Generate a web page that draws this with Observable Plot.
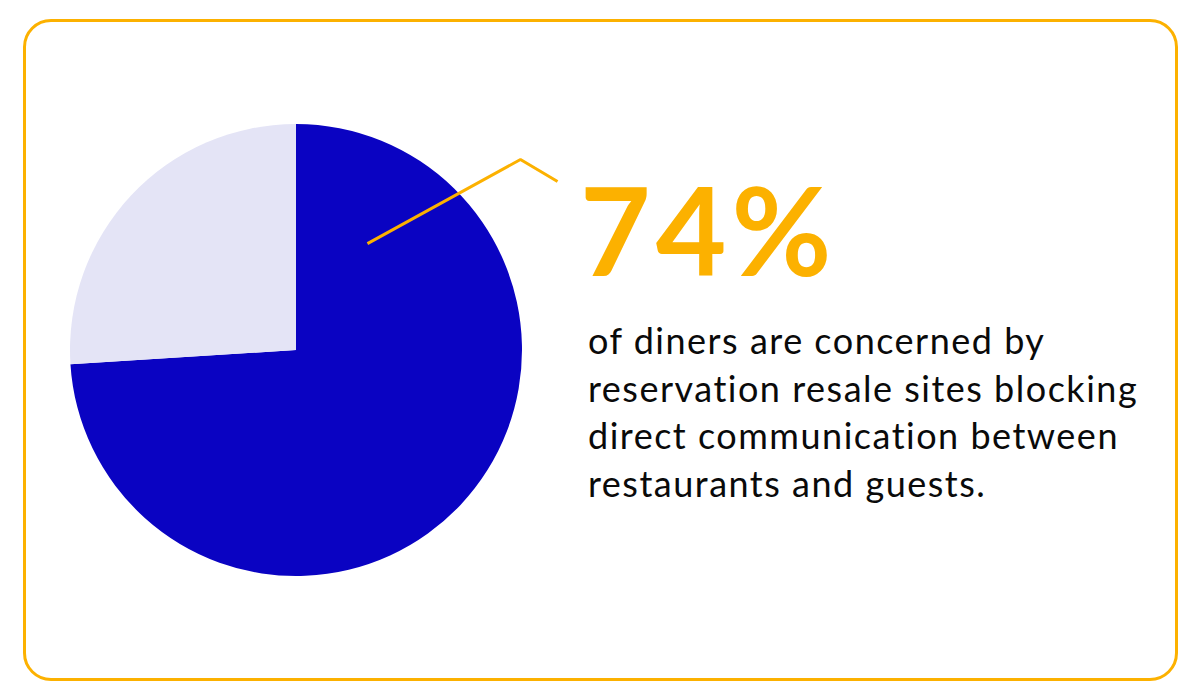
<!DOCTYPE html>
<html>
<head>
<meta charset="utf-8">
<script src="https://cdn.jsdelivr.net/npm/d3@7"></script>
<script src="https://cdn.jsdelivr.net/npm/@observablehq/plot@0.6"></script>
<style>
  html, body { margin: 0; padding: 0; background: #ffffff; }
  #page { position: relative; width: 1200px; height: 700px; overflow: hidden; font-family: Lato, "Open Sans", sans-serif; }
  #frame { position: absolute; left: 23px; top: 19px; width: 1149px; height: 656px; border: 3px solid #fcb100; border-radius: 28px; box-sizing: content-box; }
  #chart { position: absolute; left: 0; top: 0; }
  #headline { position: absolute; left: 580px; top: 168px; font-size: 122px; line-height: 122px; font-weight: 700; color: #fcb100; letter-spacing: 5px; white-space: nowrap; }
  #body { position: absolute; left: 588px; top: 317px; font-size: 36px; line-height: 47.7px; letter-spacing: 1.5px; color: #0a0a0a; white-space: nowrap; }
</style>
</head>
<body>
<div id="page">
  <div id="frame"></div>
  <div id="chart"></div>
  <div id="headline"></div>
  <div id="body"></div>
</div>
<script>
// ---- data ----
const slices = ["Concerned", "Not concerned"];
const shares = [74, 26];
const sliceColors = ["#0a03c2", "#e4e4f6"];
const headline = "74%";
const bodyLines = [
  "of diners are concerned by",
  "reservation resale sites blocking",
  "direct communication between",
  "restaurants and guests."
];
// callout leader, in pie-radius units (center = 0,0; radius = 1)
const calloutX = [0.314, 0.991, 1.155];
const calloutY = [0.473, 0.845, 0.748];

const pieData = slices.map((s, i) => ({label: s, value: shares[i], color: sliceColors[i]}));
const callout = calloutX.map((x, i) => ({x, y: calloutY[i]}));

function pieMark(index, scales) {
  const cx = scales.x(0), cy = scales.y(0);
  const r = Math.abs(scales.x(1) - scales.x(0));
  const arcs = d3.pie().value(d => d.value).sort(null)(pieData);
  const g = d3.create("svg:g").attr("transform", `translate(${cx},${cy})`);
  g.selectAll("path").data(arcs).join("path")
    .attr("d", d3.arc().innerRadius(0).outerRadius(r))
    .attr("fill", d => d.data.color);
  return g.node();
}

const plot = Plot.plot({
  width: 1200,
  height: 700,
  margin: 0,
  style: {background: "transparent"},
  x: {domain: [-1, 1], range: [70, 522], axis: null},
  y: {domain: [-1, 1], range: [576, 124], axis: null},
  marks: [
    pieMark,
    Plot.line(callout, {x: "x", y: "y", stroke: "#fcb100", strokeWidth: 3, strokeLinejoin: "miter", strokeLinecap: "butt"})
  ]
});
document.getElementById("chart").appendChild(plot);
document.getElementById("headline").textContent = headline;
document.getElementById("body").innerHTML = bodyLines.map(l => `<div>${l}</div>`).join("");
</script>
</body>
</html>
